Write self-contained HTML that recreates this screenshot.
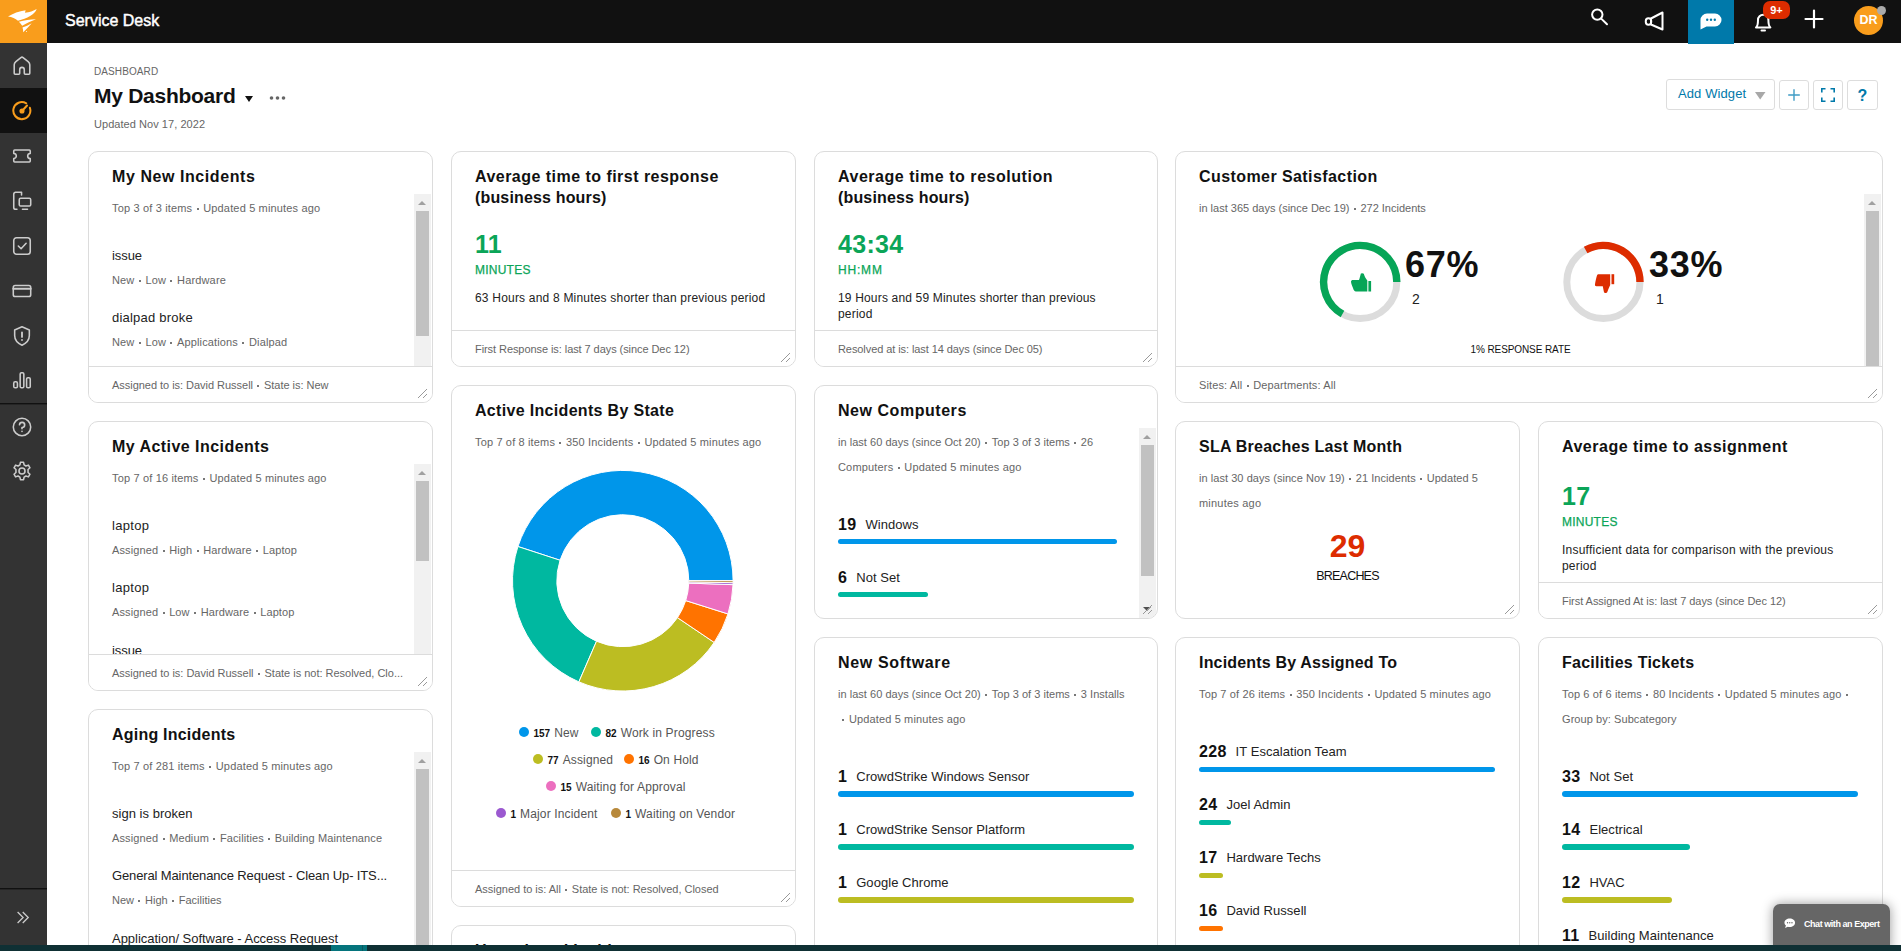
<!DOCTYPE html>
<html lang="en"><head><meta charset="utf-8"><title>Service Desk</title>
<style>
*{box-sizing:border-box;margin:0;padding:0}
html,body{width:1901px;height:951px;overflow:hidden;background:#fff}
body{font-family:"Liberation Sans",sans-serif;color:#111;position:relative;font-size:12px;letter-spacing:.2px}
.abs{position:absolute}
#top{position:absolute;left:0;top:0;width:1901px;height:43px;background:#111}
#logo{position:absolute;left:0;top:0;width:47px;height:43px;background:#f99d1c}
#brand{position:absolute;left:65px;top:11px;font-size:16px;line-height:20px;color:#fff;letter-spacing:0;font-weight:normal;-webkit-text-stroke:.45px #fff}
#side{position:absolute;left:0;top:43px;width:47px;height:908px;background:#333}
#side .act{position:absolute;left:0;top:45px;width:47px;height:45px;background:#111}
#side .sep{position:absolute;left:0;top:360px;width:47px;height:1px;background:#111;box-shadow:0 1px 0 rgba(17,17,17,.4)}
#side svg{position:absolute;left:11.2px;width:22px;height:22px;margin-top:1px;fill:none;stroke:#ccc;stroke-width:1.7;stroke-linecap:round;stroke-linejoin:round}
.tico{position:absolute;fill:none;stroke:#fff;stroke-width:2;stroke-linecap:round;stroke-linejoin:round}
#chatbox{position:absolute;left:1688px;top:0;width:46px;height:44px;background:#0079aa}
#badge{position:absolute;left:1763px;top:1px;width:27px;height:18px;border-radius:7px;background:#dd2c00;color:#fff;font-weight:bold;font-size:11px;line-height:18px;text-align:center;letter-spacing:0}
#avatar{position:absolute;left:1854px;top:6px;width:29px;height:29px;border-radius:50%;background:#f99d1c;color:#fff;font-size:12.5px;line-height:29px;text-align:center;font-weight:bold;letter-spacing:0}
#stat{position:absolute;left:1877px;top:6px;width:9px;height:9px;border-radius:50%;background:#aaa}
#crumb{position:absolute;left:94px;top:66px;font-size:10px;line-height:12px;color:#666;letter-spacing:.1px}
#ptitle{position:absolute;left:94px;top:82.5px;font-size:21px;line-height:26px;font-weight:bold;letter-spacing:.3px;color:#111}
#pupd{position:absolute;left:94px;top:117px;font-size:11px;line-height:14px;color:#666;letter-spacing:.05px}
.btn{position:absolute;top:80px;height:29px;border:1px solid #ddd;border-radius:3px;background:#fff;color:#0079aa}
.card{position:absolute;border:1px solid #dcdcdc;border-radius:10px;background:#fff;overflow:hidden}
.card h3{position:absolute;left:23px;top:14px;font-size:16px;line-height:21px;font-weight:bold;letter-spacing:.5px;color:#111;white-space:nowrap}
.sub{position:absolute;left:23px;font-size:11px;line-height:25px;color:#666;letter-spacing:.17px;white-space:nowrap}
.sub i,.meta i,.foot i{font-style:normal;display:inline-block;width:2px;height:2px;background:#777;vertical-align:middle;margin:0 4.6px 0 4.4px}
.it{position:absolute;left:23px;font-size:13px;line-height:16px;color:#222;letter-spacing:.15px;white-space:nowrap}
.meta{position:absolute;left:23px;font-size:11px;line-height:14px;color:#666;letter-spacing:.17px;white-space:nowrap}
.foot{position:absolute;left:0;right:0;bottom:0;height:36px;border-top:1px solid #dcdcdc;background:#fff;font-size:11px;line-height:14px;color:#666;padding:11px 0 0 23px;letter-spacing:0;white-space:nowrap}
.grip{position:absolute;right:4px;bottom:3px;width:11px;height:11px}
.sb{position:absolute;right:1px;width:17px;background:#f1f1f1}
.sb b{position:absolute;left:2px;width:13px;background:#c1c1c1}
.sb:before{content:"";position:absolute;left:4px;top:7px;border:4.5px solid transparent;border-top-width:0;border-bottom:4.5px solid #a0a0a0}
.big{position:absolute;left:23px;font-size:25px;line-height:30px;font-weight:bold;color:#0ba558;letter-spacing:.3px}
.unit{position:absolute;left:23px;font-size:12px;line-height:14px;color:#0ba558;letter-spacing:.3px;-webkit-text-stroke:.25px #0ba558}
.desc{position:absolute;left:23px;font-size:12px;line-height:16px;color:#222;letter-spacing:.2px}
.row{position:absolute;left:23px;white-space:nowrap;line-height:20px}
.row b{font-size:16px;font-weight:bold;letter-spacing:.3px;color:#111;margin-right:9px;position:relative;top:1px}
.row span{font-size:13px;color:#222;letter-spacing:.05px}
.bar{position:absolute;left:23px;height:5px;border-radius:3px}
.lg{position:absolute;white-space:nowrap;font-size:12px;line-height:16px;color:#555;letter-spacing:.15px;margin-top:1px}
.lg u{text-decoration:none;display:inline-block;width:10px;height:10px;border-radius:50%;vertical-align:middle;margin:0 4.5px 3.5px 0}
.lg b{font-size:10px;color:#111;letter-spacing:0;margin-right:4px}
#chat{position:absolute;left:1773px;top:904px;width:117px;height:47px;border-radius:7px 7px 0 0;background:#666;color:#fff;font-size:9px;line-height:12px;letter-spacing:-.2px;box-shadow:0 0 12px rgba(0,0,0,.4)}
#bottom{position:absolute;left:0;top:945px;width:1901px;height:6px;background:#0f3034}
#bottom i{position:absolute;left:331px;top:0;width:36px;height:6px;background:#05747c;border-right:4px solid #05747c;box-shadow:inset -1px 0 0 #0a5a60}

</style></head>
<body>
<div id="top">
  <div id="logo">
    <svg class="abs" style="left:0;top:0" width="47" height="43" viewBox="0 0 47 43"><path d="M8 16.600C13 13.500 19 11 25.600 10.200L25 12.800C29.500 12.300 33.500 11 36.700 9C35 14.500 27 18.500 18 20.800C15.500 18.800 12 17 8 16.600Z" fill="#fff"/><path d="M18.900 21.800C24.500 20.300 30 19.500 36 19.200C31 21 26.500 23.200 22.200 25.800C21.300 24.300 20.200 23 18.900 21.800Z" fill="#fff"/><path d="M22.500 27.400C25.500 26.400 28.700 25 31.700 23.200C29.200 26.200 26.300 29.300 23.200 32.200C23.200 30.500 23 29 22.500 27.400Z" fill="#fff"/><circle cx="26.500" cy="31.500" r=".5" fill="#fff"/></svg>
  </div>
  <div id="brand">Service Desk</div>
  <svg class="tico" style="left:1588px;top:5.500px" width="24" height="24" viewBox="0 0 24 24"><circle cx="9.3" cy="8.6" r="5.2"/><path d="M13.2 12.6L19 18.2"/></svg>
  <svg class="tico" style="left:1642px;top:9px" width="24" height="24" viewBox="0 0 24 24"><path d="M9 9.5L20.5 3.5V20.5L9 15.5Z"/><rect x="3.8" y="9.3" width="5.4" height="6.4" rx="2.6"/></svg>
  <div id="chatbox"><svg class="abs" style="left:11px;top:12px" width="24" height="20" viewBox="0 0 24 20"><path d="M8 1.500H16A6.500 6.500 0 0 1 16 14.500H7.500L1.500 17.500V8A6.500 6.500 0 0 1 8 1.500Z" fill="#fff"/><circle cx="8.2" cy="7.8" r="1.2" fill="#0079aa"/><circle cx="12" cy="7.8" r="1.2" fill="#0079aa"/><circle cx="15.8" cy="7.8" r="1.2" fill="#0079aa"/></svg></div>
  <svg class="tico" style="left:1751px;top:10px" width="24" height="24" viewBox="0 0 24 24"><path d="M5 17.5C7 16 7 13 7 10A5.2 5.2 0 0 1 17.4 10C17.4 13 17.4 16 19.4 17.5Z"/><path d="M10.5 20.5H14"/></svg>
  <div id="badge">9+</div>
  <svg class="tico" style="left:1802px;top:7px;stroke-width:2.2" width="24" height="24" viewBox="0 0 24 24"><path d="M12 3.5V20.5M3.5 12H20.5"/></svg>
  <div id="avatar">DR</div><div id="stat"></div>
</div>

<div id="side">
  <div class="act"></div>
  <svg style="top:11px" viewBox="0 0 24 24"><path d="M4.500 21A1 1 0 0 1 3.500 20V10.500C3.500 9 4.300 8 5.300 7.200L10.800 2.800A2 2 0 0 1 13.200 2.800L18.700 7.200C19.700 8 20.500 9 20.500 10.500V20A1 1 0 0 1 19.500 21H15.500A1 1 0 0 1 14.500 20V16A2.500 2.500 0 0 0 9.500 16V20A1 1 0 0 1 8.500 21Z"/></svg>
  <svg style="top:56px;stroke:#f99d1c;stroke-width:2.2" viewBox="0 0 24 24"><path d="M16.6 3.6A9.3 9.3 0 1 0 20.6 8.5"/><path d="M12 12L17.500 6"/><circle cx="12" cy="12" r="2.800" fill="#f99d1c" stroke="none"/></svg>
  <svg style="top:100.500px" viewBox="0 0 24 24"><path d="M4 5.500H20A1 1 0 0 1 21 6.500V9.200A2.800 2.800 0 0 0 21 14.800V17.500A1 1 0 0 1 20 18.500H4A1 1 0 0 1 3 17.500V14.800A2.800 2.800 0 0 0 3 9.200V6.500A1 1 0 0 1 4 5.500Z"/></svg>
  <svg style="top:146px" viewBox="0 0 24 24"><path d="M11.5 2.5H5A2 2 0 0 0 3 4.500V19A2 2 0 0 0 5 21H6.500M11.5 2.500V5.500"/><rect x="9" y="9" width="12.5" height="8.500" rx="1.500"/><path d="M12.5 21H18"/></svg>
  <svg style="top:191px" viewBox="0 0 24 24"><rect x="3" y="3" width="18" height="18" rx="3"/><path d="M8 12L11 15L16.500 9"/></svg>
  <svg style="top:236px" viewBox="0 0 24 24"><rect x="2.500" y="6" width="19" height="12" rx="2"/><path d="M2.500 9.500H21.500" stroke-width="2.2"/></svg>
  <svg style="top:281px" viewBox="0 0 24 24"><path d="M12 2L20 5.500V11.500C20 16.500 16.500 20 12 22C7.500 20 4 16.500 4 11.500V5.500Z"/><path d="M12 8V13M12 16.300V16.400" stroke-width="2"/></svg>
  <svg style="top:325px" viewBox="0 0 24 24"><rect x="3" y="14" width="4" height="6.500" rx="1.500"/><rect x="10" y="4" width="4" height="16.500" rx="1.500"/><rect x="17" y="9.500" width="4" height="11" rx="1.500"/></svg>
  <div class="sep"></div>
  <svg style="top:372px" viewBox="0 0 24 24"><circle cx="12" cy="12" r="9.500"/><path d="M9.300 9.500A2.800 2.800 0 1 1 12 12.500V13.800M12 16.800V16.900" stroke-width="1.800"/></svg>
  <svg style="top:416px" viewBox="0 0 24 24"><circle cx="12" cy="12" r="3.300"/><path d="M10.300 2.500H13.700L14.300 5.300L16.300 6.500L19 5.600L20.700 8.500L18.600 10.400V13.600L20.700 15.500L19 18.400L16.300 17.500L14.300 18.700L13.700 21.500H10.300L9.700 18.700L7.700 17.500L5 18.400L3.300 15.500L5.400 13.600V10.400L3.300 8.500L5 5.600L7.700 6.500L9.700 5.300Z"/></svg>
  <div class="sep" style="top:845px"></div>
  <svg style="top:862px;stroke:#ccc;stroke-width:1.400;stroke-linecap:butt;stroke-linejoin:miter" viewBox="0 0 24 24"><path d="M7.200 6.500L13.200 12.500L7.200 18.500M12.800 6.500L18.800 12.500L12.800 18.500"/></svg>
</div>

<div id="crumb">DASHBOARD</div>
<div id="ptitle"><span style="letter-spacing:-0.27px">My Dashboard</span></div>
<svg class="abs" style="left:244px;top:95px" width="10" height="8" viewBox="0 0 10 8"><path d="M1 1H9L5 7Z" fill="#111"/></svg>
<svg class="abs" style="left:269px;top:95px" width="18" height="6" viewBox="0 0 18 6"><circle cx="2.5" cy="3" r="1.800" fill="#666"/><circle cx="8.500" cy="3" r="1.800" fill="#666"/><circle cx="14.500" cy="3" r="1.800" fill="#666"/></svg>
<div id="pupd">Updated Nov 17, 2022</div>

<div class="btn" style="left:1666px;width:109px;top:79px;height:31px;font-size:13px;line-height:27px;padding-left:11px;letter-spacing:.1px">Add Widget<svg class="abs" style="left:88px;top:12px" width="11" height="8" viewBox="0 0 11 8"><path d="M0 0H10.500L5.200 7.500Z" fill="#a8a8a8"/></svg></div>
<div class="btn" style="left:1779px;width:30px;height:30px"><svg class="abs" style="left:7px;top:7px" width="14" height="14" viewBox="0 0 14 14"><path d="M7 1.200V12.800M1.200 7H12.800" stroke="#3f9cc5" stroke-width="1.400" fill="none"/></svg></div>
<div class="btn" style="left:1813px;width:30px;height:30px"><svg class="abs" style="left:7px;top:7px" width="14" height="14" viewBox="0 0 14 14"><path d="M0.800 4.500V0.800H4.500M9.500 0.800H13.200V4.500M13.200 9.500V13.200H9.500M4.500 13.200H0.800V9.500" stroke="#0079aa" stroke-width="1.600" fill="none"/></svg></div>
<div class="btn" style="left:1847px;width:31px;height:30px;font-size:16px;font-weight:bold;line-height:30px;text-align:center;letter-spacing:0">?</div>

<!-- ===== column 1 ===== -->
<div class="card" style="left:88px;top:151px;width:345px;height:252px">
  <h3><span style="letter-spacing:0.57px">My New Incidents</span></h3>
  <div class="sub" style="top:44px"><span style="letter-spacing:0.16px">Top 3 of 3 items<i></i>Updated 5 minutes ago</span></div>
  <div class="it" style="top:96px"><span style="letter-spacing:-0.07px">issue</span></div>
  <div class="meta" style="top:121px"><span style="letter-spacing:0.15px">New<i></i>Low<i></i>Hardware</span></div>
  <div class="it" style="top:158px"><span style="letter-spacing:0.22px">dialpad broke</span></div>
  <div class="meta" style="top:183px"><span style="letter-spacing:0.14px">New<i></i>Low<i></i>Applications<i></i>Dialpad</span></div>
  <div class="sb" style="top:42px;height:172px"><b style="top:17px;height:125px"></b></div>
  <div class="foot"><span style="letter-spacing:-0.03px">Assigned to is: David Russell<i></i>State is: New</span></div>
  <svg class="grip" viewBox="0 0 11 11"><path d="M1 10L10 1M6 10L10 6" stroke="#999" stroke-width="1" fill="none"/></svg>
</div>

<div class="card" style="left:88px;top:421px;width:345px;height:270px">
  <h3><span style="letter-spacing:0.45px">My Active Incidents</span></h3>
  <div class="sub" style="top:44px"><span style="letter-spacing:0.16px">Top 7 of 16 items<i></i>Updated 5 minutes ago</span></div>
  <div class="it" style="top:96px"><span style="letter-spacing:0.30px">laptop</span></div>
  <div class="meta" style="top:121px"><span style="letter-spacing:0.11px">Assigned<i></i>High<i></i>Hardware<i></i>Laptop</span></div>
  <div class="it" style="top:158px"><span style="letter-spacing:0.30px">laptop</span></div>
  <div class="meta" style="top:183px"><span style="letter-spacing:0.11px">Assigned<i></i>Low<i></i>Hardware<i></i>Laptop</span></div>
  <div class="it" style="top:221px"><span style="letter-spacing:-0.07px">issue</span></div>
  <div class="sb" style="top:42px;height:190px"><b style="top:17px;height:80px"></b></div>
  <div class="foot"><span style="letter-spacing:-0.01px">Assigned to is: David Russell<i></i>State is not: Resolved, Clo...</span></div>
  <svg class="grip" viewBox="0 0 11 11"><path d="M1 10L10 1M6 10L10 6" stroke="#999" stroke-width="1" fill="none"/></svg>
</div>

<div class="card" style="left:88px;top:709px;width:345px;height:300px">
  <h3><span style="letter-spacing:0.22px">Aging Incidents</span></h3>
  <div class="sub" style="top:44px"><span style="letter-spacing:0.16px">Top 7 of 281 items<i></i>Updated 5 minutes ago</span></div>
  <div class="it" style="top:96px"><span style="letter-spacing:0.03px">sign is broken</span></div>
  <div class="meta" style="top:121px"><span style="letter-spacing:0.11px">Assigned<i></i>Medium<i></i>Facilities<i></i>Building Maintenance</span></div>
  <div class="it" style="top:158px"><span style="letter-spacing:-0.13px">General Maintenance Request - Clean Up- ITS...</span></div>
  <div class="meta" style="top:183px"><span style="letter-spacing:0.01px">New<i></i>High<i></i>Facilities</span></div>
  <div class="it" style="top:221px"><span style="letter-spacing:-0.02px">Application/ Software - Access Request</span></div>
  <div class="sb" style="top:42px;height:260px"><b style="top:17px;height:240px"></b></div>
</div>

<!-- ===== column 2 ===== -->
<div class="card" style="left:451px;top:151px;width:345px;height:216px">
  <h3><span style="letter-spacing:0.47px">Average time to first response</span><br><span style="letter-spacing:0.16px">(business hours)</span></h3>
  <div class="big" style="top:77px">11</div>
  <div class="unit" style="top:111px"><span style="letter-spacing:0.23px">MINUTES</span></div>
  <div class="desc" style="top:138px"><span style="letter-spacing:0.20px">63 Hours and 8 Minutes shorter than previous period</span></div>
  <div class="foot"><span style="letter-spacing:-0.07px">First Response is: last 7 days (since Dec 12)</span></div>
  <svg class="grip" viewBox="0 0 11 11"><path d="M1 10L10 1M6 10L10 6" stroke="#999" stroke-width="1" fill="none"/></svg>
</div>

<div class="card" style="left:451px;top:385px;width:345px;height:522px">
  <h3><span style="letter-spacing:0.32px">Active Incidents By State</span></h3>
  <div class="sub" style="top:44px"><span style="letter-spacing:0.15px">Top 7 of 8 items<i></i>350 Incidents<i></i>Updated 5 minutes ago</span></div>
  <svg class="abs" style="left:-1px;top:-1px" width="345" height="400" viewBox="0 0 345 400">
<path d="M282.10 195.70A110.3 110.3 0 0 0 66.93 161.52L109.05 175.25A66 66 0 0 1 237.80 195.70Z" fill="#0096ea" stroke="#fff" stroke-width="1"/>
<path d="M66.93 161.52A110.3 110.3 0 0 0 127.88 296.88L145.52 256.24A66 66 0 0 1 109.05 175.25Z" fill="#00b8a0" stroke="#fff" stroke-width="1"/>
<path d="M127.88 296.88A110.3 110.3 0 0 0 263.20 257.44L226.49 232.65A66 66 0 0 1 145.52 256.24Z" fill="#bcbd22" stroke="#fff" stroke-width="1"/>
<path d="M263.20 257.44A110.3 110.3 0 0 0 276.97 228.93L234.73 215.59A66 66 0 0 1 226.49 232.65Z" fill="#ff7300" stroke="#fff" stroke-width="1"/>
<path d="M276.97 228.93A110.3 110.3 0 0 0 282.03 199.67L237.76 198.08A66 66 0 0 1 234.73 215.59Z" fill="#ec6fbf" stroke="#fff" stroke-width="1"/>
<path d="M282.03 199.67A110.3 110.3 0 0 0 282.08 197.69L237.79 196.89A66 66 0 0 1 237.76 198.08Z" fill="#9b59d0" stroke="#fff" stroke-width="1"/>
<path d="M282.08 197.69A110.3 110.3 0 0 0 282.10 195.70L237.80 195.70A66 66 0 0 1 237.79 196.89Z" fill="#b8893b" stroke="#fff" stroke-width="1"/>
  </svg>
  <div class="lg" style="left:67px;top:338px"><u style="background:#0096ea"></u><b>157</b>New</div>
  <div class="lg" style="left:139px;top:338px"><u style="background:#00b8a0"></u><b>82</b>Work in Progress</div>
  <div class="lg" style="left:81px;top:365px"><u style="background:#bcbd22"></u><b>77</b>Assigned</div>
  <div class="lg" style="left:172px;top:365px"><u style="background:#ff7300"></u><b>16</b>On Hold</div>
  <div class="lg" style="left:94px;top:392px"><u style="background:#ec6fbf"></u><b>15</b>Waiting for Approval</div>
  <div class="lg" style="left:44px;top:419px"><u style="background:#9b59d0"></u><b>1</b>Major Incident</div>
  <div class="lg" style="left:159px;top:419px"><u style="background:#b8893b"></u><b>1</b>Waiting on Vendor</div>
  <div class="foot"><span style="letter-spacing:-0.02px">Assigned to is: All<i style="width:2px;height:2px"></i>State is not: Resolved, Closed</span></div>
  <svg class="grip" viewBox="0 0 11 11"><path d="M1 10L10 1M6 10L10 6" stroke="#999" stroke-width="1" fill="none"/></svg>
</div>

<div class="card" style="left:451px;top:925px;width:345px;height:100px">
  <h3><span style="letter-spacing:0.28px">Unassigned Incidents</span></h3>
</div>

<!-- ===== column 3 ===== -->
<div class="card" style="left:814px;top:151px;width:344px;height:216px">
  <h3><span style="letter-spacing:0.53px">Average time to resolution</span><br><span style="letter-spacing:0.16px">(business hours)</span></h3>
  <div class="big" style="top:77px">43:34</div>
  <div class="unit" style="top:111px"><span style="letter-spacing:0.81px">HH:MM</span></div>
  <div class="desc" style="top:138px"><span style="letter-spacing:0.17px">19 Hours and 59 Minutes shorter than previous</span><br>period</div>
  <div class="foot"><span style="letter-spacing:-0.08px">Resolved at is: last 14 days (since Dec 05)</span></div>
  <svg class="grip" viewBox="0 0 11 11"><path d="M1 10L10 1M6 10L10 6" stroke="#999" stroke-width="1" fill="none"/></svg>
</div>

<div class="card" style="left:814px;top:385px;width:344px;height:234px">
  <h3><span style="letter-spacing:0.54px">New Computers</span></h3>
  <div class="sub" style="top:44px"><span style="letter-spacing:0.03px">in last 60 days (since Oct 20)<i></i>Top 3 of 3 items<i></i>26</span><br><span style="letter-spacing:0.17px">Computers<i></i>Updated 5 minutes ago</span></div>
  <div class="row" style="top:128px"><b>19</b><span>Windows</span></div>
  <div class="bar" style="top:153px;width:279px;background:#0096ea"></div>
  <div class="row" style="top:181px"><b>6</b><span>Not Set</span></div>
  <div class="bar" style="top:206px;width:90px;background:#00b8a0"></div>
  <div class="sb" style="top:42px;height:190px"><b style="top:17px;height:131px"></b><span class="abs" style="left:4px;bottom:7px;border:4.5px solid transparent;border-bottom-width:0;border-top:4.5px solid #505050"></span></div>
  <svg class="grip" viewBox="0 0 11 11"><path d="M1 10L10 1M6 10L10 6" stroke="#999" stroke-width="1" fill="none"/></svg>
</div>

<div class="card" style="left:814px;top:637px;width:344px;height:400px">
  <h3><span style="letter-spacing:0.65px">New Software</span></h3>
  <div class="sub" style="top:44px"><span style="letter-spacing:0.03px">in last 60 days (since Oct 20)<i></i>Top 3 of 3 items<i></i>3 Installs</span><br><i></i><span style="letter-spacing:0.13px">Updated 5 minutes ago</span></div>
  <div class="row" style="top:128px"><b>1</b><span>CrowdStrike Windows Sensor</span></div>
  <div class="bar" style="height:6px;top:153px;width:296px;background:#0096ea"></div>
  <div class="row" style="top:181px"><b>1</b><span>CrowdStrike Sensor Platform</span></div>
  <div class="bar" style="height:6px;top:206px;width:296px;background:#00b8a0"></div>
  <div class="row" style="top:234px"><b>1</b><span>Google Chrome</span></div>
  <div class="bar" style="height:6px;top:259px;width:296px;background:#bcbd22"></div>
</div>

<!-- ===== column 4/5 ===== -->
<div class="card" style="left:1175px;top:151px;width:708px;height:252px">
  <h3><span style="letter-spacing:0.42px">Customer Satisfaction</span></h3>
  <div class="sub" style="top:44px"><span style="letter-spacing:0.00px">in last 365 days (since Dec 19)<i></i>272 Incidents</span></div>
  <svg class="abs" style="left:0;top:60px" width="690" height="150" viewBox="1176 212 690 150">
    <circle cx="1360.200" cy="282" r="36.600" fill="none" stroke="#dcdcdc" stroke-width="7"/>
    <path d="M1396.800 282A36.600 36.600 0 1 0 1342.460 314.010" fill="none" stroke="#06a557" stroke-width="7.400"/>
    <path d="M1351 281.500C1351 280.600 1351.800 280 1353 280H1359C1359.800 278 1360.300 275.500 1360.800 273.800C1361 273 1363.400 273 1363.800 273.800C1364.500 276 1365.500 278.500 1367.300 280.500V291.500H1356C1354.500 291.500 1353.600 290 1353 288C1352 285.500 1351 283.500 1351 281.500Z" fill="#06a557"/><rect x="1368.400" y="281" width="2.700" height="10.500" fill="#06a557"/>
    <circle cx="1603.400" cy="282" r="36.600" fill="none" stroke="#dcdcdc" stroke-width="7"/>
    <path d="M1640 282A36.600 36.600 0 0 0 1585.660 249.990" fill="none" stroke="#dd2c00" stroke-width="7.400"/>
    <path d="M1598.600 274.200H1610.200V285C1609 287.500 1608 290 1607.200 292.200C1606.800 293.200 1604.300 293.200 1604 292.200C1603.500 290.300 1603.200 288.300 1602.800 286.300H1596.500C1595.200 286.300 1594.800 285.300 1595 284.300C1595.500 281 1596.300 277.500 1597 275.500C1597.300 274.600 1597.800 274.200 1598.600 274.200Z" fill="#dd2c00"/><rect x="1611.500" y="274.200" width="2.700" height="10" fill="#dd2c00"/>
  </svg>
  <div class="abs" style="left:229px;top:91px;font-size:36px;line-height:44px;font-weight:bold;letter-spacing:.7px;color:#111">67%</div>
  <div class="abs" style="left:236px;top:138px;font-size:14px;line-height:18px;color:#222">2</div>
  <div class="abs" style="left:473px;top:91px;font-size:36px;line-height:44px;font-weight:bold;letter-spacing:.7px;color:#111">33%</div>
  <div class="abs" style="left:480px;top:138px;font-size:14px;line-height:18px;color:#222">1</div>
  <div class="abs" style="left:0;width:689px;top:191px;text-align:center;font-size:10px;line-height:14px;color:#111;letter-spacing:0"><span style="letter-spacing:-0.09px">1% RESPONSE RATE</span></div>
  <div class="sb" style="top:42px;height:172px"><b style="top:17px;height:155px"></b></div>
  <div class="foot"><span style="letter-spacing:0.11px">Sites: All<i style="width:2px;height:2px"></i>Departments: All</span></div>
  <svg class="grip" viewBox="0 0 11 11"><path d="M1 10L10 1M6 10L10 6" stroke="#999" stroke-width="1" fill="none"/></svg>
</div>

<div class="card" style="left:1175px;top:421px;width:345px;height:198px">
  <h3><span style="letter-spacing:0.24px">SLA Breaches Last Month</span></h3>
  <div class="sub" style="top:44px"><span style="letter-spacing:0.05px">in last 30 days (since Nov 19)<i></i>21 Incidents<i></i>Updated 5</span><br><span style="letter-spacing:0.21px">minutes ago</span></div>
  <div class="abs" style="left:0;width:343px;top:105px;text-align:center;font-size:32px;line-height:38px;font-weight:bold;color:#dd2c00;letter-spacing:0">29</div>
  <div class="abs" style="left:0;width:343px;top:146px;text-align:center;font-size:12.5px;line-height:16px;color:#111;letter-spacing:0"><span style="letter-spacing:-0.79px">BREACHES</span></div>
  <svg class="grip" viewBox="0 0 11 11"><path d="M1 10L10 1M6 10L10 6" stroke="#999" stroke-width="1" fill="none"/></svg>
</div>

<div class="card" style="left:1538px;top:421px;width:345px;height:198px">
  <h3><span style="letter-spacing:0.50px">Average time to assignment</span></h3>
  <div class="big" style="top:59px">17</div>
  <div class="unit" style="top:93px"><span style="letter-spacing:0.23px">MINUTES</span></div>
  <div class="desc" style="top:120px"><span style="letter-spacing:0.23px">Insufficient data for comparison with the previous</span><br>period</div>
  <div class="foot"><span style="letter-spacing:-0.04px">First Assigned At is: last 7 days (since Dec 12)</span></div>
  <svg class="grip" viewBox="0 0 11 11"><path d="M1 10L10 1M6 10L10 6" stroke="#999" stroke-width="1" fill="none"/></svg>
</div>

<div class="card" style="left:1175px;top:637px;width:345px;height:400px">
  <h3><span style="letter-spacing:0.18px">Incidents By Assigned To</span></h3>
  <div class="sub" style="top:44px"><span style="letter-spacing:0.14px">Top 7 of 26 items<i></i>350 Incidents<i></i>Updated 5 minutes ago</span></div>
  <div class="row" style="top:103px"><b>228</b><span>IT Escalation Team</span></div>
  <div class="bar" style="top:129px;width:296px;background:#0096ea"></div>
  <div class="row" style="top:156px"><b>24</b><span>Joel Admin</span></div>
  <div class="bar" style="top:182px;width:32px;background:#00b8a0"></div>
  <div class="row" style="top:209px"><b>17</b><span>Hardware Techs</span></div>
  <div class="bar" style="top:235px;width:24px;background:#bcbd22"></div>
  <div class="row" style="top:262px"><b>16</b><span>David Russell</span></div>
  <div class="bar" style="top:288px;width:24px;background:#ff7300"></div>
</div>

<div class="card" style="left:1538px;top:637px;width:345px;height:400px">
  <h3><span style="letter-spacing:0.25px">Facilities Tickets</span></h3>
  <div class="sub" style="top:44px"><span style="letter-spacing:0.14px">Top 6 of 6 items<i></i>80 Incidents<i></i>Updated 5 minutes ago</span><i></i><br><span style="letter-spacing:0.07px">Group by: Subcategory</span></div>
  <div class="row" style="top:128px"><b>33</b><span>Not Set</span></div>
  <div class="bar" style="height:6px;top:153px;width:296px;background:#0096ea"></div>
  <div class="row" style="top:181px"><b>14</b><span>Electrical</span></div>
  <div class="bar" style="height:6px;top:206px;width:128px;background:#00b8a0"></div>
  <div class="row" style="top:234px"><b>12</b><span>HVAC</span></div>
  <div class="bar" style="height:6px;top:259px;width:110px;background:#bcbd22"></div>
  <div class="row" style="top:287px"><b>11</b><span>Building Maintenance</span></div>
</div>

<div id="chat"><svg class="abs" style="left:11px;top:14px" width="11.500" height="10.600" viewBox="0 0 13 12"><path d="M6.500 0.500C9.800 0.500 12.500 2.600 12.500 5.300S9.800 10.100 6.500 10.100C5.700 10.100 5 10 4.300 9.800L1.200 11.300L2.200 8.600C1.100 7.700 0.500 6.600 0.500 5.300C0.500 2.600 3.200 0.500 6.500 0.500Z" fill="#fff"/><circle cx="4" cy="5.300" r=".8" fill="#666"/><circle cx="6.500" cy="5.300" r=".8" fill="#666"/><circle cx="9" cy="5.300" r=".8" fill="#666"/></svg><div class="abs" style="left:31px;top:14px;font-weight:bold;white-space:nowrap"><span style="letter-spacing:-0.45px">Chat with an Expert</span></div></div>
<div id="bottom"><i></i></div>

</body></html>
